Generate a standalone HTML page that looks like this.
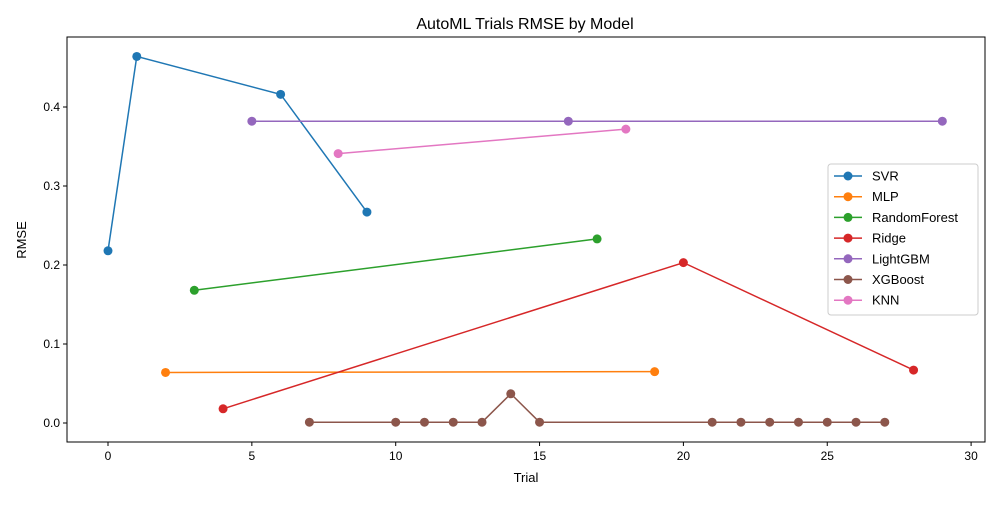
<!DOCTYPE html>
<html><head><meta charset="utf-8"><style>
body{margin:0;background:#fff;}
svg text{font-family:"Liberation Sans","DejaVu Sans",sans-serif;}
</style></head><body>
<svg id="chart" width="1000" height="500" xmlns="http://www.w3.org/2000/svg">
<rect width="1000" height="500" fill="#fff"/>
<text x="525" y="29" font-size="16" text-anchor="middle">AutoML Trials RMSE by Model</text>
<g id="axes"></g><g id="series"></g><g id="legend"></g>
<rect x="67" y="37" width="918" height="405" fill="none" stroke="#000" stroke-width="1"/>
<text x="526" y="482" font-size="13" text-anchor="middle">Trial</text>
<text x="26" y="240" font-size="13" text-anchor="middle" transform="rotate(-90 26 240)">RMSE</text>
</svg>
<script>
const seriesNames=["SVR","MLP","RandomForest","Ridge","LightGBM","XGBoost","KNN"];
const colors=["#1f77b4","#ff7f0e","#2ca02c","#d62728","#9467bd","#8c564b","#e377c2"];
const svrX=[0,1,6,9], svrY=[0.218,0.464,0.416,0.267];
const mlpX=[2,19], mlpY=[0.064,0.065];
const rfX=[3,17], rfY=[0.168,0.233];
const ridgeX=[4,20,28], ridgeY=[0.018,0.203,0.067];
const lgbX=[5,16,29], lgbY=[0.382,0.382,0.382];
const xgbX=[7,10,11,12,13,14,15,21,22,23,24,25,26,27], xgbY=[0.001,0.001,0.001,0.001,0.001,0.037,0.001,0.001,0.001,0.001,0.001,0.001,0.001,0.001];
const knnX=[8,18], knnY=[0.341,0.372];
const xTicks=[0,5,10,15,20,25,30];
const yTicks=[0.0,0.1,0.2,0.3,0.4];
const NS="http://www.w3.org/2000/svg";
const sx=v=>108+v*28.77;
const sy=v=>423-v*790;
function mk(t,a,p){const e=document.createElementNS(NS,t);for(const k in a)e.setAttribute(k,a[k]);p.appendChild(e);return e;}
const axes=document.getElementById('axes');
xTicks.forEach(t=>{
 const l=mk('line',{x1:sx(t),x2:sx(t),y1:442,y2:446,stroke:'#000'},axes);
 
 
 const tx=mk('text',{x:sx(t),y:460,'font-size':12,'text-anchor':'middle'},axes);tx.textContent=t;
 
 
});
yTicks.forEach(t=>{
 const l=mk('line',{x1:63,x2:67,y1:sy(t),y2:sy(t),stroke:'#000'},axes);
 
 
 const tx=mk('text',{x:60,y:sy(t)+4,'font-size':12,'text-anchor':'end'},axes);tx.textContent=t.toFixed(1);
 
 
});
const data=[[svrX,svrY],[mlpX,mlpY],[rfX,rfY],[ridgeX,ridgeY],[lgbX,lgbY],[xgbX,xgbY],[knnX,knnY]];
const sg=document.getElementById('series');
data.forEach((d,i)=>{
 const g=mk('g',{},sg);
 
 
 const pts=d[0].map((x,j)=>sx(x)+','+sy(d[1][j])).join(' ');
 const pl=mk('polyline',{points:pts,fill:'none',stroke:colors[i],'stroke-width':1.5},g);
 
 
 d[0].forEach((x,j)=>{
  const c=mk('circle',{cx:sx(x),cy:sy(d[1][j]),r:4.5,fill:colors[i]},g);
  
  
 });
});
const lg=document.getElementById('legend');
const box=mk('rect',{x:828,y:164,width:150,height:151,rx:3,fill:'#fff',stroke:'#ccc'},lg);


seriesNames.forEach((n,i)=>{
 const y=176+i*20.7;
 const g=mk('g',{},lg);
 
 
 mk('line',{x1:834,x2:862,y1:y,y2:y,stroke:colors[i],'stroke-width':1.5},g);
 mk('circle',{cx:848,cy:y,r:4.5,fill:colors[i]},g);
 const t=mk('text',{x:872,y:y+4.5,'font-size':13},g);t.textContent=n;
});
</script>
</body></html>
